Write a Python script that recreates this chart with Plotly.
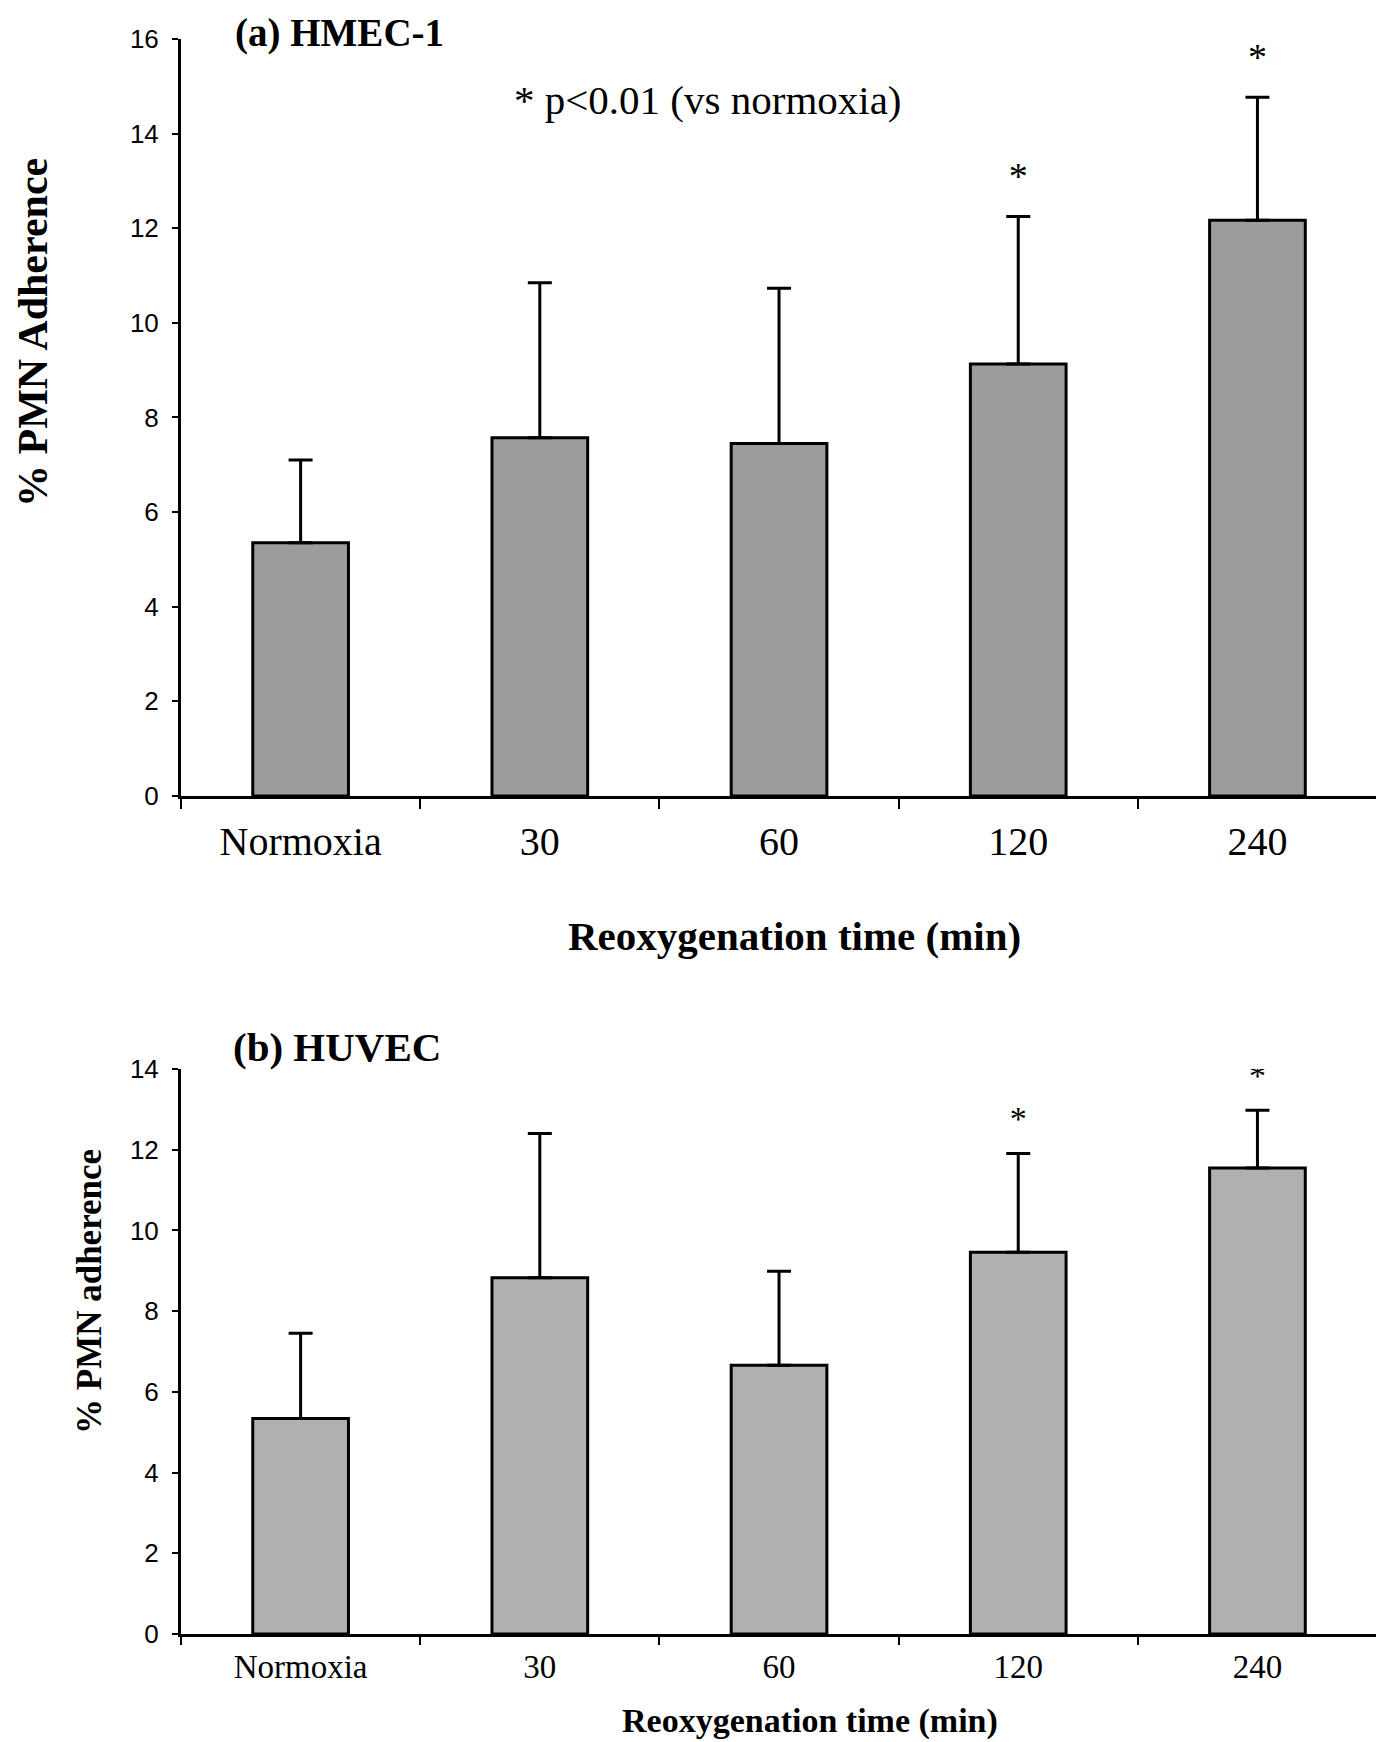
import plotly.graph_objects as go

# ---------------- data ----------------
categories = ["Normoxia", "30", "60", "120", "240"]

hmec_mean = [5.35, 7.57, 7.45, 9.13, 12.17]
hmec_sd = [1.75, 3.28, 3.28, 3.12, 2.60]
hmec_sig = [False, False, False, True, True]

huvec_mean = [5.34, 8.83, 6.66, 9.46, 11.55]
huvec_sd = [2.11, 3.57, 2.33, 2.45, 1.43]
huvec_sig = [False, False, False, True, True]

y_ticks_a = [0, 2, 4, 6, 8, 10, 12, 14, 16]
y_ticks_b = [0, 2, 4, 6, 8, 10, 12, 14]

# ---------------- style ----------------
SERIF = "Liberation Serif"
SANS = "Liberation Sans"
STAR_GAP = 0.78
FIG_W, FIG_H = 1384, 1742


def px(x, y):
    """figure pixel (from top-left) -> paper coordinates"""
    return x / FIG_W, 1 - y / FIG_H


def bar_trace(means, sds, color, xa, ya):
    return go.Bar(
        x=categories, y=means, xaxis=xa, yaxis=ya, width=0.4,
        marker=dict(color=color, line=dict(color="black", width=3)),
        error_y=dict(type="data", symmetric=False, array=sds,
                     arrayminus=[0] * len(sds), color="black",
                     thickness=3, width=12),
        hoverinfo="x+y",
    )


def star_trace(means, sds, sig, xa, ya, size):
    xs = [c for c, s in zip(categories, sig) if s]
    ys = [m + s + STAR_GAP for m, s, g in zip(means, sds, sig) if g]
    return go.Scatter(x=xs, y=ys, xaxis=xa, yaxis=ya, mode="text",
                      text=["*"] * len(xs), textposition="middle center",
                      textfont=dict(family=SERIF, size=size, color="black"),
                      hoverinfo="skip")


def label(text, x, y, size, angle=0):
    px_, py_ = px(x, y)
    return dict(text=text, xref="paper", yref="paper", x=px_, y=py_,
                xanchor="center", yanchor="middle", textangle=angle,
                showarrow=False, font=dict(family=SERIF, size=size, color="black"))


fig = go.Figure()
fig.add_trace(bar_trace(hmec_mean, hmec_sd, "#9c9c9c", "x", "y"))
fig.add_trace(star_trace(hmec_mean, hmec_sd, hmec_sig, "x", "y", 38))
fig.add_trace(bar_trace(huvec_mean, huvec_sd, "#b0b0b0", "x2", "y2"))
fig.add_trace(star_trace(huvec_mean, huvec_sd, huvec_sig, "x2", "y2", 34))

x_common = dict(type="category", showline=True, linecolor="black", linewidth=3,
                ticks="outside", tickson="boundaries", tickcolor="black",
                tickwidth=2, showgrid=False, zeroline=False, automargin=False,
                domain=[0.125, 0.9892])
y_common = dict(showline=True, linecolor="black", linewidth=3, ticks="outside",
                ticklen=6, tickwidth=2, tickcolor="black", showgrid=False,
                zeroline=False, automargin=False, ticklabelstandoff=8,
                tickfont=dict(family=SANS, size=26, color="black"))

fig.update_layout(
    width=FIG_W, height=FIG_H,
    margin=dict(l=0, r=0, t=0, b=0, autoexpand=False),
    paper_bgcolor="white", plot_bgcolor="white",
    showlegend=False,
    xaxis=dict(**x_common, anchor="y", ticklen=10, ticklabelstandoff=8,
               tickfont=dict(family=SERIF, size=40, color="black")),
    yaxis=dict(**y_common, anchor="x", domain=[0.5477, 0.9822], range=[0, 16],
               tickvals=y_ticks_a),
    xaxis2=dict(**x_common, anchor="y2", ticklen=8, ticklabelstandoff=1,
                tickfont=dict(family=SERIF, size=33, color="black")),
    yaxis2=dict(**y_common, anchor="x2", domain=[0.0666, 0.3909], range=[0, 14],
                tickvals=y_ticks_b),
    annotations=[
        label("<b>(a) HMEC-1</b>", 331, 25, 39),
        label("* p<0.01 (vs normoxia)", 700, 92, 41),
        label("<b>Reoxygenation time (min)</b>", 786, 928, 41),
        label("<b>% PMN Adherence</b>", 25, 325, 42, -90),
        label("<b>(b) HUVEC</b>", 329, 1039, 41),
        label("<b>Reoxygenation time (min)</b>", 802, 1713, 34),
        label("<b>% PMN adherence</b>", 81, 1284, 35, -90),
    ],
)

fig.write_html("out.html")
